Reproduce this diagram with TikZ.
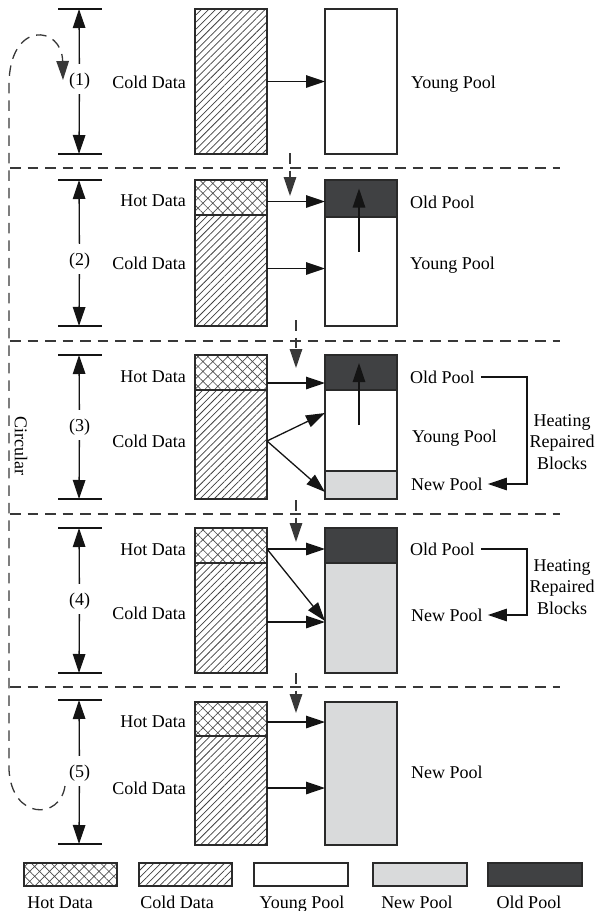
\documentclass[tikz,border=0pt]{standalone}
\usepackage{fontspec}
\setmainfont{Liberation Serif}
\usetikzlibrary{arrows.meta,patterns.meta}

\definecolor{oldc}{HTML}{404143}
\definecolor{newc}{HTML}{D9DADB}
\definecolor{edge}{HTML}{2A2A2A}

\tikzset{
  lbl/.style={font=\fontsize{18}{21.5}\selectfont, inner sep=0pt, text height=12.5pt, text depth=0pt},
  multi/.style={font=\fontsize{18}{21.5}\selectfont, inner sep=0pt, align=center},
  dimlbl/.style={lbl, inner xsep=2pt, inner ysep=8.75pt},
  part/.style={draw=edge, line width=1.3pt, minimum width=72pt, inner sep=0pt, outer sep=0pt, anchor=north west},
  colddata/.style={part, pattern={Lines[angle=45,distance=5pt,line width=0.75pt]}, pattern color=black!75},
  hotdata/.style={part, pattern={Hatch[angle=45,distance=7pt,line width=0.65pt]}, pattern color=black!70},
  youngpool/.style={part, fill=white},
  newpool/.style={part, fill=newc},
  oldpool/.style={part, fill=oldc},
  tip/.style={-{Triangle[length=19pt,width=12.5pt]}},
  arr/.style={tip, line width=1.3pt, draw=black!92},
  tick/.style={line width=1.3pt, draw=black!92},
  sepline/.style={line width=1.3pt, draw=black!78, dash pattern=on 10.5pt off 7pt},
  dasharr/.style={sepline, tip},
}

\begin{document}
\begin{tikzpicture}[x=1pt,y=-1pt]
\useasboundingbox (0,0) rectangle (595,911);

% ---------- separators between the five stages ----------
\foreach \yy in {168,341,514,687}
  \draw[sepline] (10,\yy) -- (560,\yy);

% ---------- stage 1 ----------
\node[colddata, minimum height=145pt] (d1) at (195,9) {};
\node[youngpool, minimum height=145pt] (p1) at (325,9) {};
\node[lbl, anchor=east] (l1c) at (186,82) {Cold Data};
\node[lbl, anchor=west] (r1y) at (411,82) {Young Pool};
\draw[arr] (d1.east) -- (d1.east -| p1.west);

% ---------- stage 2 ----------
\node[hotdata, minimum height=35pt] (d2h) at (195,180) {};
\node[colddata, minimum height=111pt] (d2c) at (195,215) {};
\node[oldpool, minimum height=37pt] (p2o) at (325,180) {};
\node[youngpool, minimum height=109pt] (p2y) at (325,217) {};
\node[lbl, anchor=east] (l2h) at (186,200) {Hot Data};
\node[lbl, anchor=east] (l2c) at (186,263) {Cold Data};
\node[lbl, anchor=west] (r2o) at (410,202) {Old Pool};
\node[lbl, anchor=west] (r2y) at (410,263) {Young Pool};
\coordinate (a2h) at ([yshift=-4pt]d2h.east);
\coordinate (a2c) at ([yshift=2pt]d2c.east);
\draw[arr] (a2h) -- (a2h -| p2o.west);
\draw[arr] (a2c) -- (a2c -| p2y.west);
\draw[arr] ([xshift=-2pt,yshift=20pt]p2y.center) -- ([xshift=-2pt,yshift=10pt]p2o.center);

% ---------- stage 3 ----------
\node[hotdata, minimum height=35pt] (d3h) at (195,355) {};
\node[colddata, minimum height=109pt] (d3c) at (195,390) {};
\node[oldpool, minimum height=35pt] (p3o) at (325,355) {};
\node[youngpool, minimum height=81pt] (p3y) at (325,390) {};
\node[newpool, minimum height=28pt] (p3n) at (325,471) {};
\node[lbl, anchor=east] (l3h) at (186,376) {Hot Data};
\node[lbl, anchor=east] (l3c) at (186,441) {Cold Data};
\node[lbl, anchor=west] (r3o) at (410,377) {Old Pool};
\node[lbl, anchor=west] (r3y) at (412,436) {Young Pool};
\node[lbl, anchor=west] (r3n) at (411,484) {New Pool};
\node[multi] (h3) at (562,442) {Heating\\Repaired\\Blocks};
\coordinate (a3h) at ([yshift=-10.5pt]d3h.east);
\coordinate (a3c) at ([yshift=3.5pt]d3c.east);
\draw[arr] (a3h) -- (a3h -| p3o.west);
\draw[arr] (a3c) -- ([yshift=17.5pt]p3y.west);
\draw[arr] (a3c) -- ([yshift=-7pt]p3n.west);
\draw[arr] ([xshift=-2pt,yshift=5.5pt]p3y.center) -- ([xshift=-2pt,yshift=9.5pt]p3o.center);
\draw[arr] ([xshift=6pt]r3o.east) -- (527,377) |- ([xshift=5pt]r3n.east);

% ---------- stage 4 ----------
\node[hotdata, minimum height=35pt] (d4h) at (195,528) {};
\node[colddata, minimum height=110pt] (d4c) at (195,563) {};
\node[oldpool, minimum height=35pt] (p4o) at (325,528) {};
\node[newpool, minimum height=110pt] (p4n) at (325,563) {};
\node[lbl, anchor=east] (l4h) at (186,549) {Hot Data};
\node[lbl, anchor=east] (l4c) at (186,613) {Cold Data};
\node[lbl, anchor=west] (r4o) at (410,549) {Old Pool};
\node[lbl, anchor=west] (r4n) at (411,615) {New Pool};
\node[multi] (h4) at (562,587) {Heating\\Repaired\\Blocks};
\coordinate (a4h) at ([yshift=-3.5pt]d4h.east);
\coordinate (a4c) at ([yshift=-4pt]d4c.east);
\draw[arr] (a4h) -- (a4h -| p4o.west);
\draw[arr] (a4h) -- ([yshift=-3pt]p4n.west);
\draw[arr] (a4c) -- (a4c -| p4n.west);
\draw[arr] ([xshift=6pt]r4o.east) -- (527,549) |- ([xshift=5pt]r4n.east);

% ---------- stage 5 ----------
\node[hotdata, minimum height=34pt] (d5h) at (195,702) {};
\node[colddata, minimum height=109pt] (d5c) at (195,736) {};
\node[newpool, minimum height=143pt] (p5n) at (325,702) {};
\node[lbl, anchor=east] (l5h) at (186,721) {Hot Data};
\node[lbl, anchor=east] (l5c) at (186,788) {Cold Data};
\node[lbl, anchor=west] (r5n) at (411,772) {New Pool};
\coordinate (a5h) at ([yshift=-3pt]d5h.east);
\coordinate (a5c) at ([yshift=2.5pt]d5c.east);
\draw[arr] (a5h) -- (a5h -| p5n.west);
\draw[arr] (a5c) -- (a5c -| p5n.west);

% ---------- stage height markers ----------
\foreach \k/\ya/\yb/\ym in {1/9/154/79, 2/180/326/259, 3/355/499/425, 4/528/673/599, 5/700/844/771}{
  \coordinate (t\k) at (79,\ya);
  \coordinate (b\k) at (79,\yb);
  \node[dimlbl] (n\k) at (79.5,\ym) {(\k)};
  \draw[tick] ([xshift=-21pt]t\k) -- ([xshift=23pt]t\k);
  \draw[tick] ([xshift=-21pt]b\k) -- ([xshift=23pt]b\k);
  \draw[arr] (n\k) -- (t\k);
  \draw[arr] (n\k) -- (b\k);
}

% ---------- flow between stages ----------
\coordinate (s2a) at (290,153); \coordinate (s2b) at (290,196);
\coordinate (s3a) at (296,320); \coordinate (s3b) at (296,368);
\coordinate (s4a) at (296,500); \coordinate (s4b) at (296,542);
\coordinate (s5a) at (296,673); \coordinate (s5b) at (296,713);
\draw[dasharr] (s2a) -- (s2b);
\draw[dasharr] (s3a) -- (s3b);
\draw[dasharr] (s4a) -- (s4b);
\draw[dasharr] (s5a) -- (s5b);

% ---------- circular return from stage 5 to stage 1 ----------
\coordinate (cs) at (65,786);
\coordinate (ce) at (63,80);
\draw[dasharr] (cs) .. controls (60,820) and (12,820) .. (9,770)
  -- (9,85) .. controls (9,20) and (62,25) .. (ce);
\node[lbl, rotate=-90] (circ) at (21,446) {Circular};

% ---------- legend ----------
\node[hotdata, minimum width=93pt, minimum height=23pt] (k1) at (24,863) {};
\node[colddata, minimum width=93pt, minimum height=23pt] (k2) at (139,863) {};
\node[youngpool, minimum width=94pt, minimum height=23pt] (k3) at (254,863) {};
\node[newpool, minimum width=94pt, minimum height=23pt] (k4) at (373,863) {};
\node[oldpool, minimum width=94pt, minimum height=23pt] (k5) at (488,863) {};
\node[lbl] (k1t) at (60,902) {Hot Data};
\node[lbl] (k2t) at (177,902) {Cold Data};
\node[lbl] (k3t) at (302,902) {Young Pool};
\node[lbl] (k4t) at (417,902) {New Pool};
\node[lbl] (k5t) at (529,902) {Old Pool};
\end{tikzpicture}
\end{document}
